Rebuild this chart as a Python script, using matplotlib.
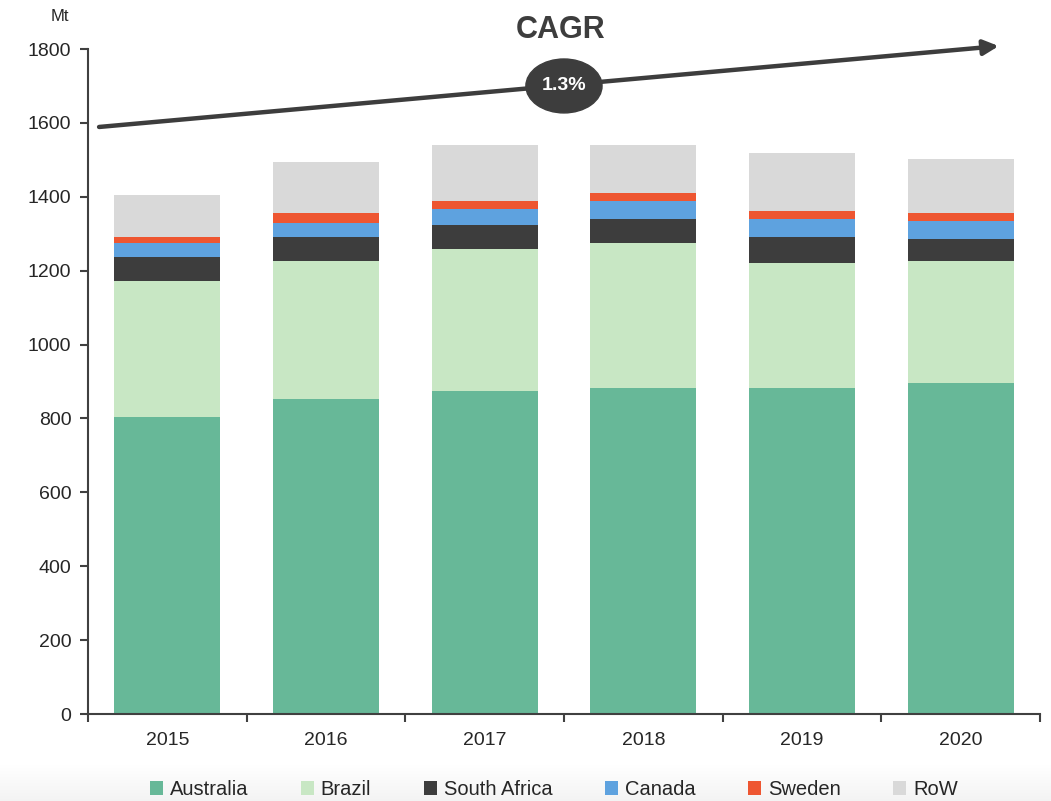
import matplotlib
matplotlib.use("Agg")
import matplotlib.pyplot as plt
from matplotlib.patches import Ellipse
import numpy as np

plt.rcParams['font.family'] = ['Liberation Sans', 'DejaVu Sans']

years = ["2015", "2016", "2017", "2018", "2019", "2020"]
australia = [804, 853, 874, 882, 882, 896]
brazil = [368, 373, 385, 393, 339, 330]
south_africa = [65, 65, 65, 65, 70, 60]
canada = [38, 38, 43, 49, 49, 49]
sweden = [16, 27, 22, 21, 22, 21]
row = [114, 138, 151, 130, 157, 146]

series = [
    ("Australia", australia, "#67b898"),
    ("Brazil", brazil, "#c8e7c4"),
    ("South Africa", south_africa, "#3d3d3d"),
    ("Canada", canada, "#5ea2df"),
    ("Sweden", sweden, "#ee5631"),
    ("RoW", row, "#d9d9d9"),
]
cagr_label = "1.3%"

fig = plt.figure(figsize=(10.51, 8.01), dpi=100)
# subtle gradient strip at the bottom
bg = fig.add_axes([0, 0, 1, 0.045], zorder=-10)
grad = np.linspace(1.0, 0.955, 50).reshape(-1, 1)
bg.imshow(np.dstack([grad, grad, grad]), aspect="auto", extent=[0, 1, 1, 0],
          interpolation="bilinear")
bg.axis("off")

ax = fig.add_axes([0.0837, 0.1086, 0.9058, 0.8302])
ax.patch.set_alpha(0)

x = np.arange(len(years))
bottom = np.zeros(len(years))
for name, vals, col in series:
    ax.bar(x, vals, width=0.667, bottom=bottom, color=col, label=name, zorder=2)
    bottom += np.array(vals)

ax.set_xlim(-0.5, len(years) - 0.5)
ax.set_ylim(0, 1800)
ax.set_yticks(np.arange(0, 1801, 200))
ax.set_xticks(x)
ax.set_xticklabels(years)
ax.set_xticks(np.arange(-0.5, len(years) - 0.4, 1), minor=True)
ax.tick_params(axis='x', which='major', length=0, pad=13, labelsize=14, labelcolor="#262626")
ax.tick_params(axis='x', which='minor', length=6, width=1.5, color="#404040", direction='out')
ax.tick_params(axis='y', length=6, width=1.5, color="#404040", labelsize=14, labelcolor="#262626", pad=6)
for s in ["top", "right"]:
    ax.spines[s].set_visible(False)
for s in ["left", "bottom"]:
    ax.spines[s].set_color("#404040")
    ax.spines[s].set_linewidth(1.5)

# CAGR arrow
ax.annotate("", xy=(5.24, 1808), xytext=(-0.43, 1589),
            arrowprops=dict(arrowstyle="-|>,head_length=0.9,head_width=0.45",
                            color="#3d3d3d", lw=3.2, shrinkA=0, shrinkB=0),
            annotation_clip=False, zorder=5)
cx, cy = 2.5, 1700
ell = Ellipse((cx, cy), width=0.48, height=146, color="#3d3d3d", zorder=6, clip_on=False)
ax.add_patch(ell)
ax.text(cx, cy, cagr_label, ha="center", va="center", color="white",
        fontsize=14, fontweight="bold", zorder=7)
fig.text(0.533, 0.963, "CAGR", ha="center", va="center", fontsize=22,
         fontweight="bold", color="#3d3d3d")
fig.text(0.057, 0.979, "Mt", ha="center", va="center", fontsize=12, color="#262626")

leg = fig.legend(loc="center", bbox_to_anchor=(0.527, 0.014), ncol=6, frameon=False,
                 fontsize=14.5, handlelength=0.65, handleheight=0.65, handletextpad=0.35,
                 columnspacing=2.6)
for t in leg.get_texts():
    t.set_color("#262626")

fig.savefig("out.png", dpi=100)
